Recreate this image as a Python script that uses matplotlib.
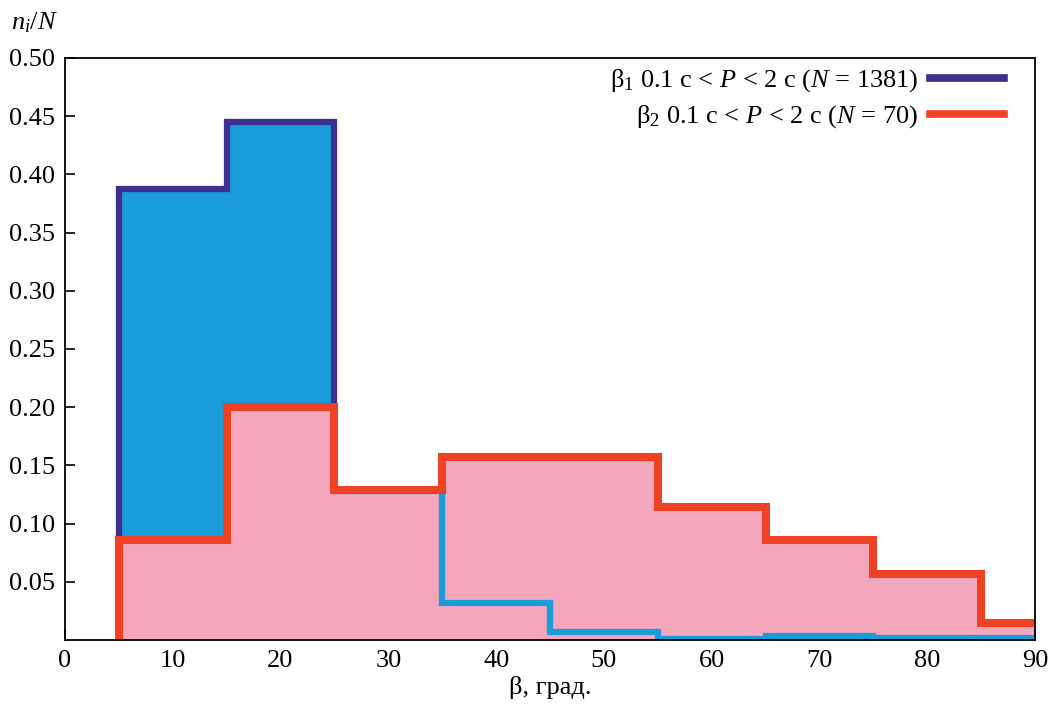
import matplotlib
matplotlib.use("Agg")
import matplotlib.pyplot as plt
from matplotlib.lines import Line2D
import numpy as np

plt.rcParams["font.family"] = ["Liberation Serif", "DejaVu Serif"]
plt.rcParams["mathtext.fontset"] = "custom"
plt.rcParams["mathtext.rm"] = "Liberation Serif"
plt.rcParams["mathtext.it"] = "Liberation Serif:italic"

# Histogram bin edges (degrees) and relative frequencies n_i/N
bin_edges = [5, 15, 25, 35, 45, 55, 65, 75, 85, 90]
beta1_freq = [0.387, 0.445, 0.128, 0.032, 0.007, 0.001, 0.003, 0.002, 0.002]
beta2_freq = [0.0857, 0.2000, 0.1286, 0.1571, 0.1571, 0.1143, 0.0857, 0.0571, 0.0143]

x_ticks = [0, 10, 20, 30, 40, 50, 60, 70, 80, 90]
y_ticks = [0.05, 0.10, 0.15, 0.20, 0.25, 0.30, 0.35, 0.40, 0.45, 0.50]

label1 = "β$_1$ 0.1 с < $P$ < 2 с ($N$ = 1381)"
label2 = "β$_2$ 0.1 с < $P$ < 2 с ($N$ = 70)"

c_fill1 = "#1a9cd8"
c_edge1 = "#3d2e8f"
c_fill2 = "#f4a6bd"
c_edge2 = "#ef4123"

FS = 19

fig = plt.figure(figsize=(10.53, 7.06), dpi=100)
ax = fig.add_axes([0.0617, 0.0935, 0.9213, 0.8245])

edges = np.array(bin_edges, dtype=float)
v1 = np.array(beta1_freq)
v2 = np.array(beta2_freq)

def outline(e, v):
    xs = np.repeat(e, 2)
    ys = np.concatenate([[0.0], np.repeat(v, 2), [v[-1]]])
    return xs, ys

# beta1: filled histogram with dark outline
ax.stairs(v1, edges, baseline=0, fill=True, color=c_fill1, zorder=1, lw=0)
x1, y1 = outline(edges, v1)
ax.plot(x1, y1, color=c_edge1, lw=4.5, zorder=2, solid_joinstyle="miter")

# beta2: filled histogram
ax.stairs(v2, edges, baseline=0, fill=True, color=c_fill2, zorder=3, lw=0)

# beta1 tail drawn over the beta2 fill
ax.stairs(v1[2:], edges[2:], baseline=None, color=c_fill1, lw=4.5, zorder=4)

# beta2 outline
x2, y2 = outline(edges, v2)
ax.plot(x2, y2, color=c_edge2, lw=5.8, zorder=5, solid_joinstyle="miter")

ax.set_xlim(0, 90)
ax.set_ylim(0, 0.5)
ax.set_xticks(x_ticks)
ax.set_xticklabels([str(t) for t in x_ticks])
ax.set_yticks(y_ticks)
ax.set_yticklabels([f"{t:.2f}" for t in y_ticks])
ax.tick_params(direction="in", length=7, width=1.2, labelsize=FS,
               top=False, right=False, pad=7)
for s in ax.spines.values():
    s.set_linewidth(1.3)
    s.set_zorder(10)

ax.set_xlabel("β, град.", fontsize=FS, labelpad=3)
fig.text(0.010, 0.968, "$n_i/N$", fontsize=FS, ha="left", va="center")

handles = [Line2D([], [], color=c_edge1, lw=5.5),
           Line2D([], [], color=c_edge2, lw=5.5)]
ax.legend(handles, [label1, label2], loc="upper right", frameon=False,
          fontsize=FS, markerfirst=False, handlelength=2.8,
          handletextpad=0.45, labelspacing=0.35, borderaxespad=0.2,
          bbox_to_anchor=(0.9845, 1.011))

fig.savefig("out.png", dpi=100)
